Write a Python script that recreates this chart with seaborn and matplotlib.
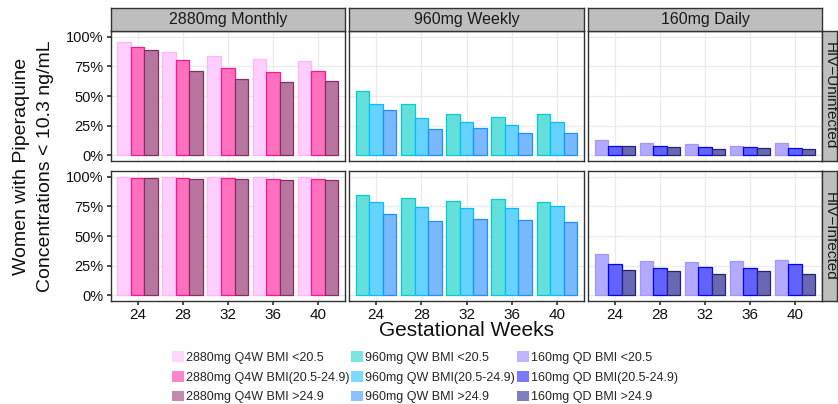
import numpy as np
import pandas as pd
import matplotlib
matplotlib.use("Agg")
import matplotlib.pyplot as plt
import matplotlib.patches as mpatches
import seaborn as sns

# ---------------- data ----------------
weeks = ["24", "28", "32", "36", "40"]
doses = ["2880mg Monthly", "960mg Weekly", "160mg Daily"]
hiv_status = ["HIV\u2212Uninfected", "HIV\u2212Infected"]
bmi_groups = ["BMI <20.5", "BMI(20.5-24.9)", "BMI >24.9"]

uninf_2880_low = [0.96, 0.875, 0.835, 0.81, 0.80]
uninf_2880_mid = [0.915, 0.805, 0.74, 0.705, 0.715]
uninf_2880_high = [0.89, 0.715, 0.64, 0.615, 0.63]
uninf_960_low = [0.54, 0.43, 0.345, 0.325, 0.345]
uninf_960_mid = [0.43, 0.31, 0.28, 0.255, 0.28]
uninf_960_high = [0.38, 0.22, 0.23, 0.19, 0.185]
uninf_160_low = [0.125, 0.10, 0.093, 0.076, 0.10]
uninf_160_mid = [0.076, 0.076, 0.067, 0.067, 0.06]
uninf_160_high = [0.073, 0.07, 0.051, 0.059, 0.051]

inf_2880_low = [1.0, 1.0, 1.0, 1.0, 1.0]
inf_2880_mid = [0.995, 0.99, 0.99, 0.985, 0.985]
inf_2880_high = [0.99, 0.98, 0.985, 0.975, 0.975]
inf_960_low = [0.85, 0.82, 0.795, 0.815, 0.79]
inf_960_mid = [0.79, 0.745, 0.735, 0.735, 0.75]
inf_960_high = [0.69, 0.625, 0.64, 0.635, 0.615]
inf_160_low = [0.35, 0.285, 0.28, 0.29, 0.295]
inf_160_mid = [0.265, 0.23, 0.24, 0.23, 0.26]
inf_160_high = [0.215, 0.205, 0.18, 0.20, 0.18]

legend_labels = [
    ["2880mg Q4W BMI <20.5", "2880mg Q4W BMI(20.5-24.9)", "2880mg Q4W BMI >24.9"],
    ["960mg QW BMI <20.5", "960mg QW BMI(20.5-24.9)", "960mg QW BMI >24.9"],
    ["160mg QD BMI <20.5", "160mg QD BMI(20.5-24.9)", "160mg QD BMI >24.9"],
]

series = {
    (0, 0): [uninf_2880_low, uninf_2880_mid, uninf_2880_high],
    (0, 1): [uninf_960_low, uninf_960_mid, uninf_960_high],
    (0, 2): [uninf_160_low, uninf_160_mid, uninf_160_high],
    (1, 0): [inf_2880_low, inf_2880_mid, inf_2880_high],
    (1, 1): [inf_960_low, inf_960_mid, inf_960_high],
    (1, 2): [inf_160_low, inf_160_mid, inf_160_high],
}

rows = []
for (r, c), vals in series.items():
    for g, v in zip(bmi_groups, vals):
        for w, val in zip(weeks, v):
            rows.append(dict(hiv=hiv_status[r], dose=doses[c], bmi=g, week=w, value=val))
df = pd.DataFrame(rows)

# ---------------- style ----------------
fills = [
    ["#FFCFFF", "#FF70BF", "#B776A0"],
    ["#64E0DC", "#66D3FF", "#78B9FF"],
    ["#B2AAFF", "#6262FF", "#6868B4"],
]
edges = [
    ["#FFB8F4", "#FF1493", "#8B2A63"],
    ["#00CED1", "#00BFFF", "#1E90FF"],
    ["#A496FF", "#0000FF", "#23237A"],
]

sns.set_theme(style="white")
plt.rcParams["font.family"] = ["Liberation Sans", "DejaVu Sans"]

W, H = 838, 404
fig = plt.figure(figsize=(W / 100, H / 100), dpi=100)


def rect(x0, y0, x1, y1):
    return [x0 / W, 1 - y1 / H, (x1 - x0) / W, (y1 - y0) / H]


col_x = [(110.5, 345), (349, 584), (588, 822)]
row_y = [(31, 161), (171, 301)]
border = "#333333"

for r in range(2):
    for c in range(3):
        x0, x1 = col_x[c]
        y0, y1 = row_y[r]
        ax = fig.add_axes(rect(x0, y0, x1, y1))
        sub = df[(df.hiv == hiv_status[r]) & (df.dose == doses[c])]
        sns.barplot(data=sub, x="week", y="value", hue="bmi", order=weeks,
                    hue_order=bmi_groups, palette=fills[c], width=0.9,
                    saturation=1, legend=False, ax=ax, errorbar=None)
        for k, cont in enumerate(ax.containers):
            for bar in cont:
                bar.set_edgecolor(edges[c][k])
                bar.set_linewidth(0.9)
        ax.set_xlim(-0.6, 4.6)
        ax.set_ylim(-0.05, 1.05)
        ax.set_yticks([0, 0.25, 0.5, 0.75, 1.0])
        ax.set_yticklabels(["0%", "25%", "50%", "75%", "100%"])
        ax.grid(True, color="#EBEBEB", lw=0.9)
        ax.set_axisbelow(True)
        ax.set_xlabel("")
        ax.set_ylabel("")
        for s in ax.spines.values():
            s.set_color(border)
            s.set_linewidth(1.0)
        ax.tick_params(axis="x", length=3 if r == 1 else 0, color=border,
                       labelbottom=(r == 1), labelsize=11, labelcolor="#111111", pad=2)
        ax.tick_params(axis="y", length=3 if c == 0 else 0, color=border,
                       labelleft=(c == 0), labelsize=10.5, labelcolor="#111111", pad=2)
        ax.tick_params(left=(c == 0), bottom=(r == 1))

        if r == 0:
            sax = fig.add_axes(rect(x0, 8, x1, 31))
            sax.set_xticks([]); sax.set_yticks([])
            sax.set_facecolor("#BEBEBE")
            for s in sax.spines.values():
                s.set_color(border); s.set_linewidth(1.0)
            sax.text(0.5, 0.5, doses[c], ha="center", va="center",
                     fontsize=11.5, color="#1A1A1A", transform=sax.transAxes)
        if c == 2:
            sax = fig.add_axes(rect(822, y0, 837, y1))
            sax.set_xticks([]); sax.set_yticks([])
            sax.set_facecolor("#BEBEBE")
            for s in sax.spines.values():
                s.set_color(border); s.set_linewidth(1.0)
            sax.text(0.5, 0.5, hiv_status[r], ha="center", va="center",
                     rotation=-90, fontsize=11, color="#1A1A1A", transform=sax.transAxes)

fig.text(466 / W, 1 - 330 / H, "Gestational Weeks", ha="center", va="center",
         fontsize=15, color="#111111")
fig.text(33.5 / W, 1 - 166 / H, "Women with Piperaquine\nConcentrations < 10.3 ng/mL",
         ha="center", va="center", rotation=90, fontsize=14, color="#111111",
         linespacing=1.5)


def lighten(hexc, f=0.15):
    rgb = np.array(matplotlib.colors.to_rgb(hexc))
    return tuple(rgb + (1 - rgb) * f)


leg_x = [172, 351, 517]
for c in range(3):
    handles = [mpatches.Patch(facecolor=lighten(fills[c][k]), edgecolor="none")
               for k in range(3)]
    fig.legend(handles, legend_labels[c], loc="upper left",
               bbox_to_anchor=(leg_x[c] / W, 1 - 351 / H), frameon=False,
               fontsize=9, handlelength=0.95, handleheight=0.95, handletextpad=0.2,
               labelspacing=0.57, borderpad=0, borderaxespad=0)

fig.savefig("out.png", dpi=100)
